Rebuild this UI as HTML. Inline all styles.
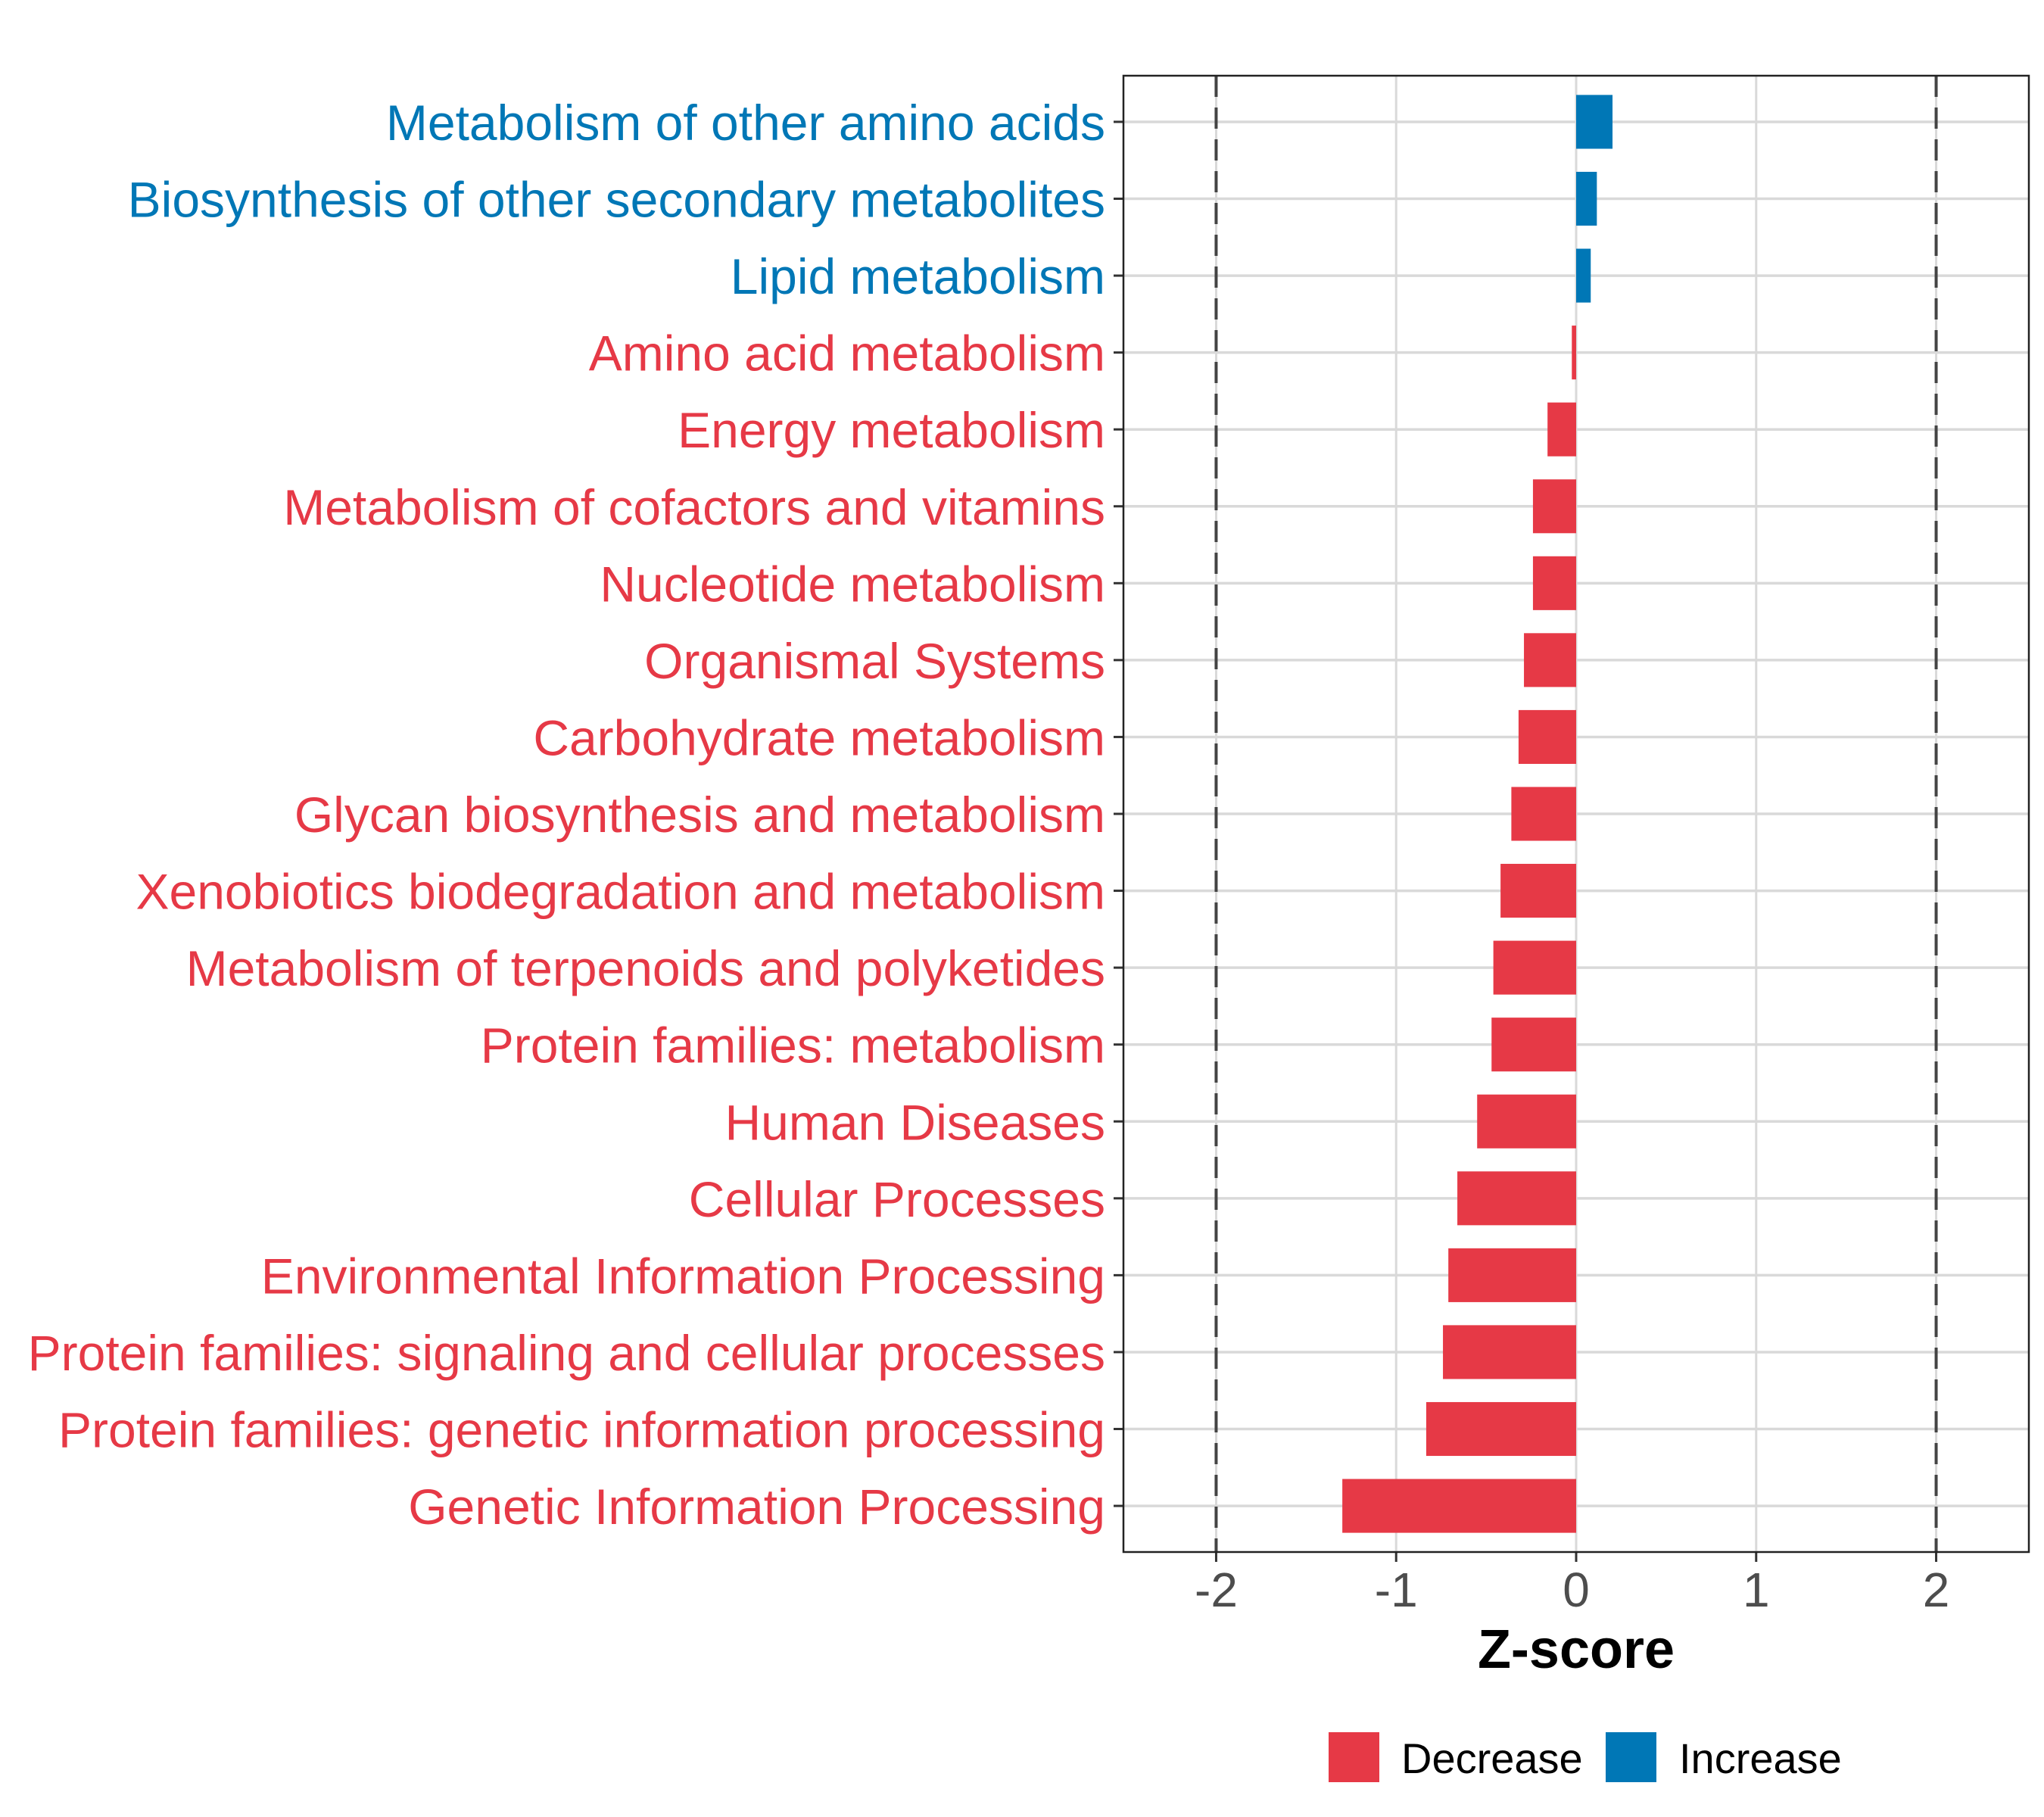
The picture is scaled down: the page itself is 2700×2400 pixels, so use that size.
<!DOCTYPE html>
<html><head><meta charset="utf-8"><style>
html,body{margin:0;padding:0;background:#fff;}
svg{display:block;font-family:"Liberation Sans",Arial,sans-serif;}
</style></head><body>
<svg id="chart" width="2700" height="2400" viewBox="0 0 2700 2400" xmlns="http://www.w3.org/2000/svg">
<rect x="0" y="0" width="2700" height="2400" fill="#fff"/>
<g id="grid"></g>
<g id="bars"></g>
<g id="ylabels"></g>
<g id="xaxis"></g>
<rect x="1484" y="100" width="1196" height="1950" fill="none" stroke="#222" stroke-width="2.5"/>
<text x="2082" y="2203" text-anchor="middle" font-size="72" font-weight="bold" fill="#000">Z-score</text>
<g>
<rect x="1755" y="2288" width="67" height="66" fill="#E63946"/>
<text x="1851" y="2342" font-size="56" fill="#000">Decrease</text>
<rect x="2121" y="2288" width="67" height="66" fill="#0077B6"/>
<text x="2218" y="2342" font-size="56" fill="#000">Increase</text>
</g>
</svg>
<script>
const categories = ["Metabolism of other amino acids","Biosynthesis of other secondary metabolites","Lipid metabolism","Amino acid metabolism","Energy metabolism","Metabolism of cofactors and vitamins","Nucleotide metabolism","Organismal Systems","Carbohydrate metabolism","Glycan biosynthesis and metabolism","Xenobiotics biodegradation and metabolism","Metabolism of terpenoids and polyketides","Protein families: metabolism","Human Diseases","Cellular Processes","Environmental Information Processing","Protein families: signaling and cellular processes","Protein families: genetic information processing","Genetic Information Processing"];
const zscores = [0.202,0.115,0.081,-0.024,-0.159,-0.24,-0.24,-0.29,-0.32,-0.36,-0.42,-0.46,-0.47,-0.55,-0.66,-0.71,-0.74,-0.833,-1.299];
const xTicks = [-2,-1,0,1,2];
const xTickLabels = ["-2","-1","0","1","2"];
const thresholds = [-2,2];

const NS="http://www.w3.org/2000/svg";
const PL=1484, PR=2680, PT=100, PB=2050;
const XMIN=-2.515, XMAX=2.515;
function xs(v){return PL+(v-XMIN)/(XMAX-XMIN)*(PR-PL);}
const n=categories.length;
function ys(i){const u=(PB-PT)/(n+0.2);return PT+(0.6+i)*u;}
const bandU=(PB-PT)/(n+0.2);
function mk(tag,attrs,parent){const e=document.createElementNS(NS,tag);for(const k in attrs)e.setAttribute(k,attrs[k]);parent.appendChild(e);return e;}
const grid=document.getElementById('grid'),bars=document.getElementById('bars'),yl=document.getElementById('ylabels'),xa=document.getElementById('xaxis');
xTicks.forEach((t,i)=>{
  const l=mk('line',{x1:xs(t),x2:xs(t),y1:PT,y2:PB,stroke:'#D9D9D9','stroke-width':3},grid);
  
  
  const tk=mk('line',{x1:xs(t),x2:xs(t),y1:PB,y2:PB+13,stroke:'#333','stroke-width':3},xa);
  
  
  const tx=mk('text',{x:xs(t),y:2122,'text-anchor':'middle','font-size':64,fill:'#4D4D4D'},xa);
  tx.textContent=xTickLabels[i];
  
  
});
categories.forEach((c,i)=>{
  const y=ys(i);
  const g=mk('line',{x1:PL,x2:PR,y1:y,y2:y,stroke:'#D9D9D9','stroke-width':3.5},grid);
  
  
  const v=zscores[i];
  const col=v>=0?'#0077B6':'#E63946';
  const x0=xs(0),x1=xs(v);
  const h=bandU*0.7;
  const b=mk('rect',{x:Math.min(x0,x1),y:y-h/2,width:Math.max(Math.abs(x1-x0),1),height:h,fill:col},bars);
  
  
  const tk=mk('line',{x1:PL-13,x2:PL,y1:y,y2:y,stroke:'#333','stroke-width':3},yl);
  
  
  const t=mk('text',{x:1460,y:y+24,'text-anchor':'end','font-size':66,fill:col},yl);
  t.textContent=c;
  
  
});
thresholds.forEach(t=>{
  const d=mk('line',{x1:xs(t),x2:xs(t),y1:PT,y2:PB,stroke:'#444','stroke-width':4,'stroke-dasharray':'28 14'},bars);
  
  
});
</script>
</body></html>
